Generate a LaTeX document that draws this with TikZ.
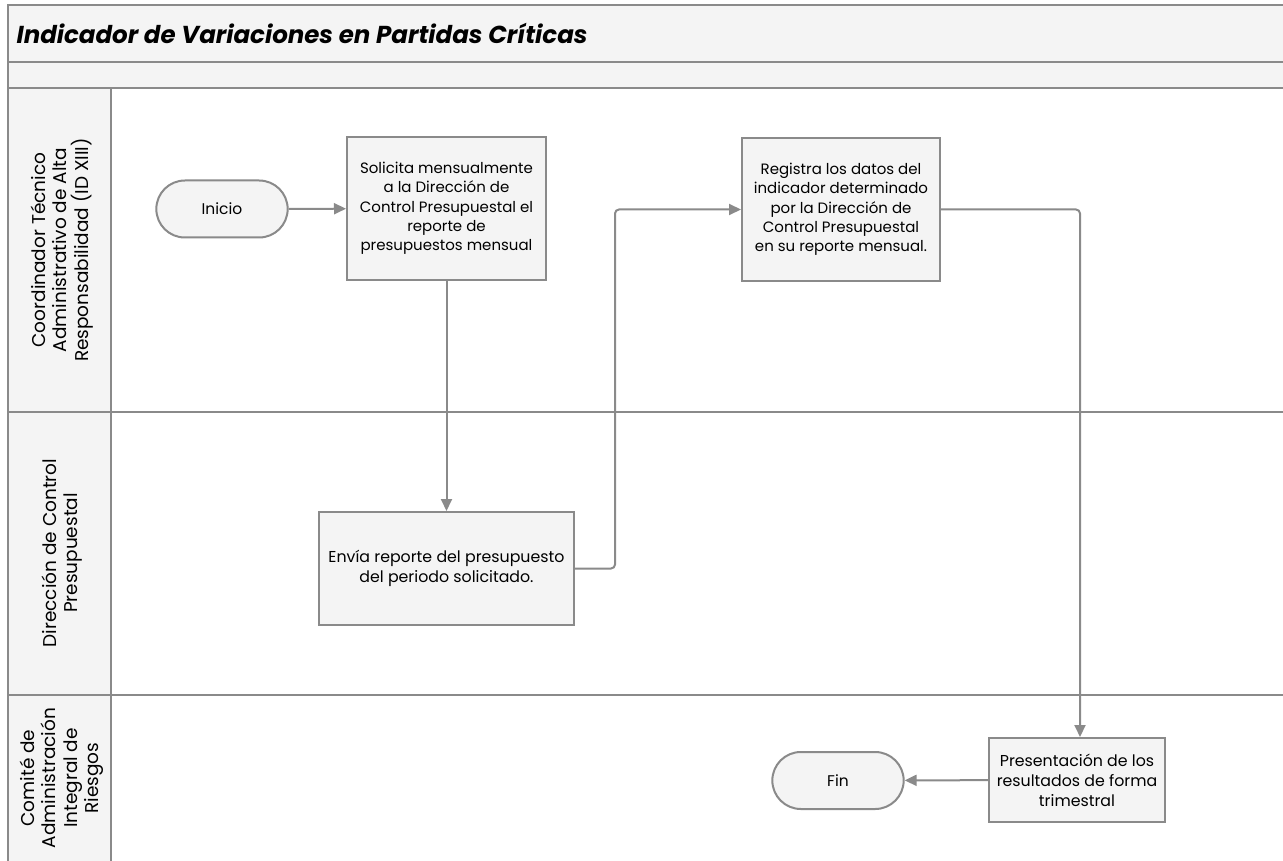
\documentclass[tikz,border=0pt]{standalone}
\usepackage{fontspec}
\setmainfont{Poppins}
\usetikzlibrary{arrows.meta, shapes.misc, positioning}
\definecolor{linegray}{RGB}{138,138,138}
\definecolor{boxfill}{RGB}{244,244,244}

\begin{document}
\begin{tikzpicture}[x=1pt,y=-1pt,
  lane/.style={draw=linegray, line width=2pt, fill=boxfill},
  lanelabel/.style={rotate=90, align=center, font=\fontsize{18.5}{21.5}\selectfont},
  proc/.style={draw=linegray, line width=2pt, fill=boxfill, align=center,
    inner sep=0pt, font=\fontsize{15}{19.3}\selectfont},
  bigproc/.style={proc, font=\fontsize{15.8}{20}\selectfont},
  term/.style={rounded rectangle, draw=linegray, line width=2pt, fill=boxfill,
    minimum width=138pt, minimum height=57pt, font=\fontsize{15.5}{18}\selectfont},
  flow/.style={draw=linegray, line width=2pt, -{Triangle[length=12pt,width=11pt]},
    rounded corners=4pt}]
\useasboundingbox (0,0) rectangle (1283,861);
\clip (0,0) rectangle (1283,861);
\fill[white] (0,0) rectangle (1283,861);

% pool and lanes
\draw[lane] (8,5) rectangle (1300,62);
\draw[lane] (8,62) rectangle (1300,88);
\draw[draw=linegray, line width=2pt] (8,88) rectangle (1300,412);
\draw[draw=linegray, line width=2pt] (8,412) rectangle (1300,695);
\draw[draw=linegray, line width=2pt] (8,695) rectangle (1300,880);
\draw[lane] (8,88) rectangle (111,412);
\draw[lane] (8,412) rectangle (111,695);
\draw[lane] (8,695) rectangle (111,880);

\node[anchor=west, font=\fontsize{24.5}{28}\selectfont\bfseries\itshape] (title) at (13,33)
  {Indicador de Variaciones en Partidas Críticas};

\node[lanelabel] (coordinador) at (62,250)
  {Coordinador Técnico\\Administrativo de Alta\\Responsabilidad (ID XIII)};
\node[lanelabel] (direccion) at (62,553) {Dirección de Control\\Presupuestal};
\node[lanelabel] (comite) at (62,778) {Comité de\\Administración\\Integral de\\Riesgos};

% steps
\node[term] (inicio) at (222,209) {Inicio};
\node[proc, minimum width=199pt, minimum height=143pt] (solicita) at (446.5,208.5)
  {Solicita mensualmente\\a la Dirección de\\Control Presupuestal el\\reporte de\\presupuestos mensual};
\node[proc, minimum width=198pt, minimum height=143pt] (registra) at (841,209.5)
  {Registra los datos del\\indicador determinado\\por la Dirección de\\Control Presupuestal\\en su reporte mensual.};
\node[bigproc, minimum width=255pt, minimum height=113pt] (envia) at (446.5,568.5)
  {Envía reporte del presupuesto\\del periodo solicitado.};
\node[bigproc, minimum width=176pt, minimum height=84pt] (presenta) at (1077,780)
  {Presentación de los\\resultados de forma\\trimestral};
\node[term] (fin) at (838,780.5) {Fin};

\coordinate (envturn) at (615,568.5);
\coordinate (regturn) at (1080,209.5);

% connectors
\draw[flow] (inicio) -- (solicita);
\draw[flow] (solicita) -- (envia);
\draw[flow] (envia.east) -- (envturn) |- (registra.west);
\draw[flow] (registra.east) -- (regturn) -- (regturn |- presenta.north);
\draw[flow] (presenta) -- (fin);
\end{tikzpicture}
\end{document}
